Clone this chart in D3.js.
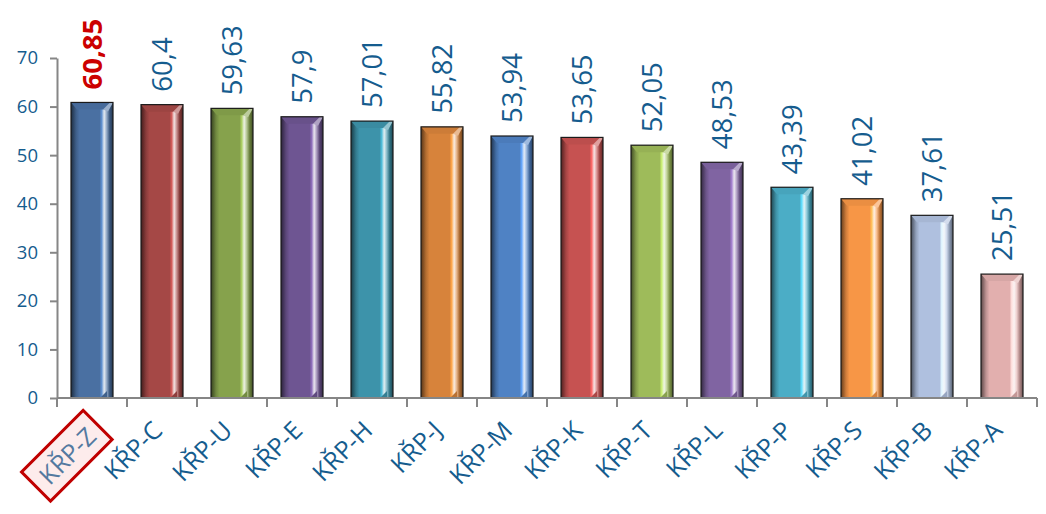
<!DOCTYPE html>
<html>
<head>
<meta charset="utf-8">
<script src="https://cdn.jsdelivr.net/npm/d3@7/dist/d3.min.js"></script>
<style>
  html, body { margin: 0; padding: 0; background: #fff; }
  svg { display: block; font-family: "Open Sans", sans-serif; }
</style>
</head>
<body>
<svg id="chart"></svg>
<script>
const categories = ['KŘP-Z', 'KŘP-C', 'KŘP-U', 'KŘP-E', 'KŘP-H', 'KŘP-J', 'KŘP-M',
  'KŘP-K', 'KŘP-T', 'KŘP-L', 'KŘP-P', 'KŘP-S', 'KŘP-B', 'KŘP-A'];
const values = [60.85, 60.4, 59.63, 57.9, 57.01, 55.82, 53.94, 53.65, 52.05, 48.53, 43.39, 41.02, 37.61, 25.51];
const barColors = ['#4A70A2', '#A54846', '#86A24C', '#6E5592', '#3D93AA', '#D7833B', '#4F82C4',
  '#C65251', '#9EBB5A', '#8064A2', '#4BADC6', '#F79646', '#AFC0DF', '#E2AFAE'];
const yTicks = [0, 10, 20, 30, 40, 50, 60, 70];

const width = 1046, height = 514;
const margin = { top: 58, right: 9, bottom: 116, left: 57 };
const labelColor = '#155C8E';
const axisColor = '#868686';

const svg = d3.select('#chart')
  .attr('width', width)
  .attr('height', height);

const x = d3.scaleBand()
  .domain(categories)
  .range([margin.left, width - margin.right])
  .paddingInner(0.4)
  .paddingOuter(0.2);

const y = d3.scaleLinear()
  .domain([0, 70])
  .range([height - margin.bottom, margin.top]);

const fmt = v => String(v).replace('.', ',');

// gradients for the bevelled bars
const defs = svg.append('defs');
barColors.forEach((c, i) => {
  const base = d3.color(c);
  const g = defs.append('linearGradient')
    .attr('id', 'grad' + i)
    .attr('x1', 0).attr('x2', 1).attr('y1', 0).attr('y2', 0);
  const stops = [
    [0, base.darker(2.4)],
    [0.05, base.darker(1.5)],
    [0.12, base.darker(0.5)],
    [0.2, base],
    [0.68, base],
    [0.73, base.brighter(0.7)],
    [0.79, d3.interpolateRgb(c, '#ffffff')(0.85)],
    [0.85, d3.interpolateRgb(c, '#ffffff')(0.4)],
    [0.92, base.darker(0.7)],
    [1, base.darker(2)]
  ];
  stops.forEach(([o, col]) => g.append('stop').attr('offset', o).attr('stop-color', col));
});

// y axis
const yAxis = g => g
  .attr('transform', `translate(${margin.left},0)`)
  .call(d3.axisLeft(y).tickValues(yTicks).tickSize(7).tickSizeOuter(0))
  .call(g => g.select('.domain').attr('stroke', axisColor).attr('stroke-width', 2))
  .call(g => g.selectAll('.tick line').attr('stroke', axisColor).attr('stroke-width', 2))
  .call(g => g.selectAll('.tick text')
    .attr('x', -19)
    .attr('fill', labelColor)
    .attr('font-size', 18.5)
    .attr('font-family', '"Open Sans", sans-serif'));

svg.append('g').call(yAxis);

// bars
const bw = x.bandwidth();
const bars = svg.append('g')
  .selectAll('g')
  .data(values)
  .join('g')
  .attr('transform', (d, i) => `translate(${x(categories[i])},0)`);

bars.append('rect')
  .attr('x', 0)
  .attr('y', d => y(d))
  .attr('width', bw)
  .attr('height', d => y(0) - y(d))
  .attr('fill', (d, i) => `url(#grad${i})`);

// top bevel
bars.append('path')
  .attr('d', d => `M0,${y(d)}H${bw}L${bw - 7},${y(d) + 7}H6Z`)
  .attr('fill', (d, i) => d3.color(barColors[i]).darker(0.15))
  .attr('stroke', 'none');
bars.append('path')
  .attr('d', d => `M${bw - 10},${y(d) + 7}L${bw - 3},${y(d)}H${bw}L${bw - 5},${y(d) + 9}Z`)
  .attr('fill', (d, i) => d3.interpolateRgb(barColors[i], '#ffffff')(0.45));
// bottom-right bevel
bars.append('path')
  .attr('d', d => `M${bw - 13},${y(0)}L${bw - 6},${y(0) - 7}V${y(0)}Z`)
  .attr('fill', (d, i) => d3.color(barColors[i]).darker(0.4));
// dark outline
bars.append('rect')
  .attr('x', 0)
  .attr('y', d => y(d))
  .attr('width', bw)
  .attr('height', d => y(0) - y(d))
  .attr('fill', 'none')
  .attr('stroke', '#1a1a1a')
  .attr('stroke-width', 1.2);

// value labels, rotated
bars.append('text')
  .attr('transform', d => `translate(${bw / 2},${y(d) - 13}) rotate(-90)`)
  .attr('dy', '0.36em')
  .attr('text-anchor', 'start')
  .attr('font-size', 27.5)
  .attr('font-weight', (d, i) => i === 0 ? 'bold' : 'normal')
  .attr('fill', (d, i) => i === 0 ? '#CC0000' : labelColor)
  .text(d => fmt(d));

// x axis
const xTickPos = d3.range(categories.length + 1).map(i => margin.left + i * x.step());
const xg = svg.append('g');
xg.append('line')
  .attr('x1', margin.left).attr('x2', width - margin.right)
  .attr('y1', y(0)).attr('y2', y(0))
  .attr('stroke', axisColor).attr('stroke-width', 2);
xg.selectAll('.xt')
  .data(xTickPos)
  .join('line')
  .attr('class', 'xt')
  .attr('x1', d => d).attr('x2', d => d)
  .attr('y1', y(0)).attr('y2', y(0) + 9)
  .attr('stroke', axisColor).attr('stroke-width', 2);

// category labels at -45 degrees (the highlighted one sits a little lower)
const xl = svg.append('g')
  .selectAll('g')
  .data(categories)
  .join('g')
  .attr('transform', (d, i) => {
    const dx = i === 0 ? 6 : 2, dy = i === 0 ? 40 : 34;
    return `translate(${x(d) + bw / 2 + dx},${y(0) + dy}) rotate(-45)`;
  });

xl.append('text')
  .attr('text-anchor', 'end')
  .attr('font-size', 25)
  .attr('fill', (d, i) => i === 0 ? '#5479A0' : labelColor)
  .text(d => d);

// highlight box around the first category
const first = xl.filter((d, i) => i === 0);
const bb = first.select('text').node().getBBox();
first.insert('rect', 'text')
  .attr('x', bb.x - 10)
  .attr('y', bb.y - 3)
  .attr('width', bb.width + 19)
  .attr('height', bb.height + 7)
  .attr('fill', '#FDECEC')
  .attr('stroke', '#C00000')
  .attr('stroke-width', 3);
</script>
</body>
</html>
